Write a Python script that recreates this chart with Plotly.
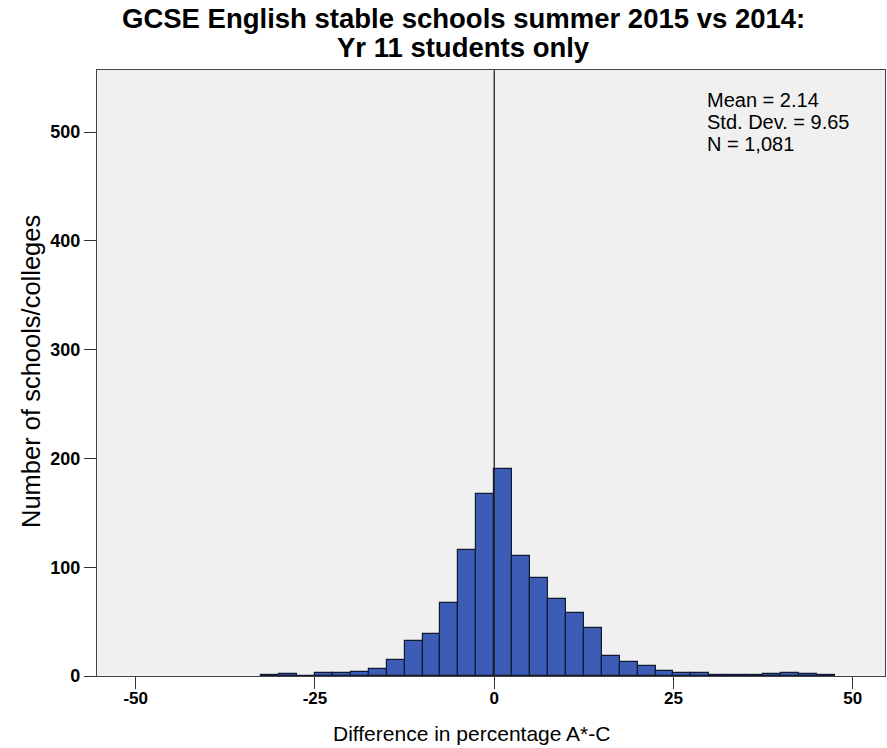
import plotly.graph_objects as go

# Histogram bins (left edge, width 2.5 percentage points) and school counts
bin_width = 2.5
bin_left = [-32.5, -30, -27.5, -25, -22.5, -20, -17.5, -15, -12.5, -10, -7.5, -5, -2.5,
            0, 2.5, 5, 7.5, 10, 12.5, 15, 17.5, 20, 22.5, 25, 27.5, 30, 32.5, 35, 37.5,
            40, 42.5, 45]
counts = [1, 2, 0, 3, 3, 4, 6, 15, 32, 39, 67, 116, 167,
          190, 110, 90, 71, 58, 44, 18, 13, 9, 5, 3, 3, 1, 1, 1, 2,
          3, 2, 1]

x_ticks = [-50, -25, 0, 25, 50]
y_ticks = [0, 100, 200, 300, 400, 500]
stats_lines = ["Mean = 2.14", "Std. Dev. = 9.65", "N = 1,081"]

title_lines = ["GCSE English stable schools summer 2015 vs 2014:", "Yr 11 students only"]
x_title = "Difference in percentage A*-C"
y_title = "Number of schools/colleges"

centers = [b + bin_width / 2 for b in bin_left]

FONT = "Liberation Sans, Arial, sans-serif"
PLOT_LEFT, PLOT_W = 97, 788   # plot area in px, for placing text in paper units
PLOT_TOP, PLOT_H = 70, 606


def paper_x(px):
    return (px - PLOT_LEFT) / PLOT_W


def paper_y(px):
    return 1 - (px - PLOT_TOP) / PLOT_H


fig = go.Figure()
fig.add_trace(go.Bar(
    x=centers,
    y=counts,
    width=[bin_width] * len(centers),
    marker=dict(color="#3d5cb5", line=dict(color="#111a33", width=1.2)),
    hoverinfo="x+y",
))

# reference line at zero difference
fig.add_shape(type="line", xref="x", yref="paper", x0=0, x1=0, y0=0, y1=1,
              line=dict(color="#222222", width=1.3), layer="above")

annotations = []
# two-line title, each line placed separately for tight line spacing
for i, line in enumerate(title_lines):
    annotations.append(dict(
        text=line, xref="paper", yref="paper",
        x=paper_x(463), y=paper_y(18 + 29 * i), xanchor="center", yanchor="middle",
        showarrow=False, font=dict(size=27.5, family=FONT, weight="bold")))
# summary statistics box
for i, line in enumerate(stats_lines):
    annotations.append(dict(
        text=line, xref="paper", yref="paper",
        x=paper_x(705), y=paper_y(100 + 22 * i), xanchor="left", yanchor="middle",
        showarrow=False, font=dict(size=20, family=FONT)))
# axis titles
annotations.append(dict(
    text=x_title, xref="paper", yref="paper",
    x=paper_x(471), y=paper_y(733), xanchor="center", yanchor="middle",
    showarrow=False, font=dict(size=21, family=FONT)))
annotations.append(dict(
    text=y_title, xref="paper", yref="paper", textangle=-90,
    x=paper_x(31), y=paper_y(372), xanchor="center", yanchor="middle",
    showarrow=False, font=dict(size=25.5, family=FONT)))

fig.update_layout(
    width=887, height=748,
    margin=dict(l=97, r=2, t=70, b=72),
    paper_bgcolor="white",
    plot_bgcolor="#f0f0f0",
    showlegend=False,
    bargap=0,
    font=dict(family=FONT, color="black"),
    xaxis=dict(
        range=[-55.4, 54.5],
        tickvals=x_ticks,
        ticktext=[str(v) for v in x_ticks],
        ticks="outside", ticklen=12, tickwidth=1.3, tickcolor="#333333",
        ticklabelstandoff=-6,
        tickfont=dict(size=17, family=FONT, weight="bold"),
        showgrid=False, zeroline=False,
        showline=True, linecolor="#444444", linewidth=1.3, mirror=True,
    ),
    yaxis=dict(
        range=[0, 557],
        tickvals=y_ticks,
        ticks="outside", ticklen=12, tickwidth=1.3, tickcolor="#333333",
        tickfont=dict(size=18, family=FONT, weight="bold"),
        showgrid=False, zeroline=False,
        showline=True, linecolor="#444444", linewidth=1.3, mirror=True,
    ),
    annotations=annotations,
)

fig.write_html("out.html")
